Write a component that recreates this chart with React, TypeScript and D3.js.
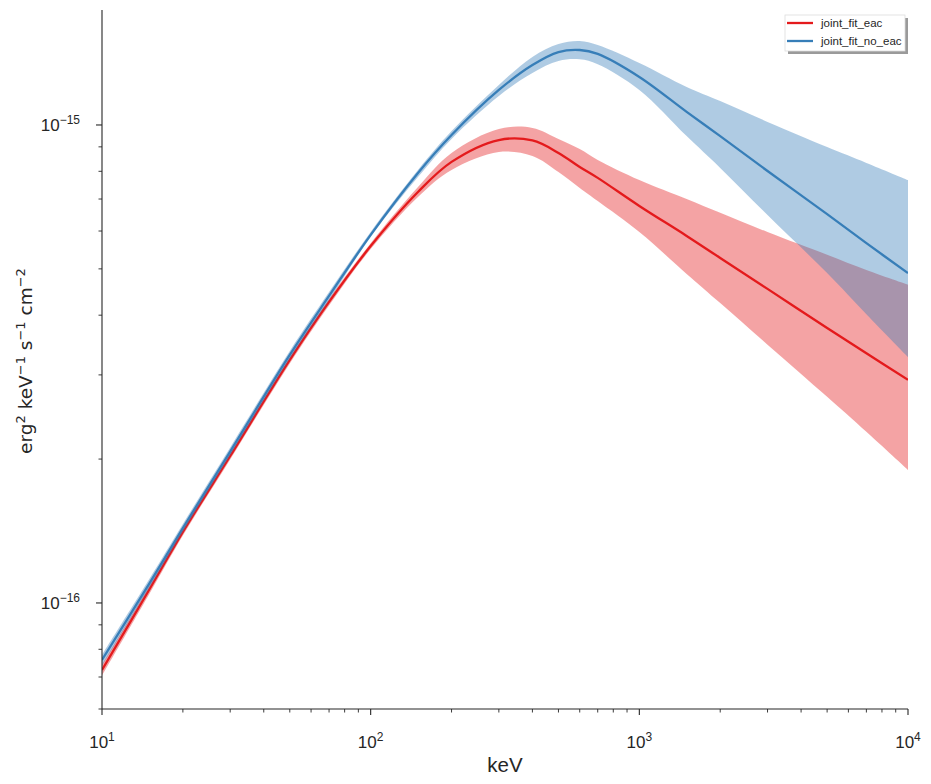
import { useEffect, useRef } from 'react'
import * as d3 from 'd3'

// photon energy grid (keV)
const energies = [10, 15, 20, 30, 50, 70, 100, 150, 200, 300, 400, 500, 600, 700, 1000, 1500, 2000, 3000, 5000, 7000, 10000]

// vFv in units of 1e-16 erg^2 keV^-1 s^-1 cm^-2
const eacMid = [0.724, 1.067, 1.408, 2.030, 3.224, 4.264, 5.58, 7.24, 8.37, 9.30, 9.28, 8.74, 8.17, 7.75, 6.77, 5.86, 5.27, 4.54, 3.76, 3.33, 2.93]
const eacHigh = [0.742, 1.088, 1.428, 2.059, 3.270, 4.325, 5.66, 7.42, 8.74, 9.81, 9.86, 9.35, 8.91, 8.45, 7.67, 7.00, 6.55, 5.97, 5.35, 4.97, 4.63]
const eacLow = [0.704, 1.044, 1.384, 1.996, 3.170, 4.193, 5.50, 7.07, 8.05, 8.78, 8.61, 7.97, 7.38, 6.93, 5.97, 4.88, 4.24, 3.47, 2.70, 2.28, 1.897]

const noEacMid = [0.760, 1.098, 1.435, 2.074, 3.303, 4.388, 5.89, 7.937, 9.53, 11.84, 13.35, 14.21, 14.35, 14.08, 12.60, 10.65, 9.48, 8.01, 6.51, 5.66, 4.90]
const noEacHigh = [0.778, 1.122, 1.463, 2.115, 3.367, 4.473, 5.973, 8.05, 9.71, 12.13, 13.88, 14.77, 14.99, 14.70, 13.48, 12.01, 11.22, 10.15, 8.99, 8.33, 7.67]
const noEacLow = [0.738, 1.075, 1.408, 2.035, 3.239, 4.30, 5.83, 7.78, 9.35, 11.50, 12.85, 13.61, 13.72, 13.40, 11.84, 9.48, 8.13, 6.48, 4.90, 4.02, 3.27]

const seriesNames = ['joint_fit_eac', 'joint_fit_no_eac']
const seriesColors = ['#e41a1c', '#377eb8']

const xMajorExponents = [1, 2, 3, 4]
const yMajorExponents = [-16, -15]

const W = 931
const H = 784

type Pt = { e: number; mid: number; lo: number; hi: number }

export default function App() {
  const svgRef = useRef<SVGSVGElement>(null)

  useEffect(() => {
    if (!svgRef.current) return
    const svg = d3.select(svgRef.current)
    svg.selectAll('*').remove()

    const left = 102, right = 908, top = 10, bottom = 709
    const ink = '#262626'
    const sans = '"Liberation Sans", Arial, sans-serif'

    const x = d3.scaleLog().domain([10, 1e4]).range([left, right])
    const y = d3.scaleLog().domain([6.0e-17, 1.74e-15]).range([bottom, top])

    const build = (mid: number[], lo: number[], hi: number[]): Pt[] =>
      energies.map((e, i) => ({ e, mid: mid[i] * 1e-16, lo: lo[i] * 1e-16, hi: hi[i] * 1e-16 }))

    const series = [
      build(eacMid, eacLow, eacHigh),
      build(noEacMid, noEacLow, noEacHigh)
    ]

    svg.append('defs').append('clipPath').attr('id', 'plot-clip')
      .append('rect')
      .attr('x', left).attr('y', top)
      .attr('width', right - left).attr('height', bottom - top)

    const plot = svg.append('g').attr('clip-path', 'url(#plot-clip)')

    const curve = d3.curveCatmullRom.alpha(0.5)

    const area = d3.area<Pt>()
      .x(d => x(d.e))
      .y0(d => y(d.lo))
      .y1(d => y(d.hi))
      .curve(curve)

    const line = d3.line<Pt>()
      .x(d => x(d.e))
      .y(d => y(d.mid))
      .curve(curve)

    series.forEach((data, i) => {
      plot.append('path')
        .datum(data)
        .attr('fill', seriesColors[i])
        .attr('fill-opacity', 0.4)
        .attr('d', area)
      plot.append('path')
        .datum(data)
        .attr('fill', 'none')
        .attr('stroke', seriesColors[i])
        .attr('stroke-width', 2.3)
        .attr('d', line)
    })

    // spines
    svg.append('line')
      .attr('x1', left).attr('x2', left)
      .attr('y1', top).attr('y2', bottom)
      .attr('stroke', ink).attr('stroke-width', 1.1)
    svg.append('line')
      .attr('x1', left).attr('x2', right)
      .attr('y1', bottom).attr('y2', bottom)
      .attr('stroke', ink).attr('stroke-width', 1.1)

    // x ticks
    const xMinor: number[] = []
    for (let p = 1; p < 4; p++) for (let k = 2; k <= 9; k++) xMinor.push(k * Math.pow(10, p))
    const ticks = svg.append('g').attr('stroke', ink)
    xMinor.forEach(v => {
      ticks.append('line')
        .attr('x1', x(v)).attr('x2', x(v))
        .attr('y1', bottom).attr('y2', bottom + 3.5)
        .attr('stroke-width', 0.9)
    })
    xMajorExponents.forEach(p => {
      const v = Math.pow(10, p)
      ticks.append('line')
        .attr('x1', x(v)).attr('x2', x(v))
        .attr('y1', bottom).attr('y2', bottom + 6)
        .attr('stroke-width', 1.1)
      const t = svg.append('text')
        .attr('x', x(v))
        .attr('y', 748)
        .attr('text-anchor', 'middle')
        .attr('font-family', sans)
        .attr('font-size', 17)
        .attr('fill', ink)
      t.append('tspan').text('10')
      t.append('tspan').attr('dy', -7).attr('font-size', 12).text(String(p))
    })

    // y ticks
    const yMinor: number[] = []
    for (let p = -17; p <= -16; p++) for (let k = 2; k <= 9; k++) {
      const v = k * Math.pow(10, p)
      if (v >= 5.99e-17 && v <= 1.74e-15) yMinor.push(v)
    }
    yMinor.forEach(v => {
      ticks.append('line')
        .attr('x1', left - 3.5).attr('x2', left)
        .attr('y1', y(v)).attr('y2', y(v))
        .attr('stroke-width', 0.9)
    })
    yMajorExponents.forEach(p => {
      const v = Math.pow(10, p)
      ticks.append('line')
        .attr('x1', left - 6).attr('x2', left)
        .attr('y1', y(v)).attr('y2', y(v))
        .attr('stroke-width', 1.1)
      const t = svg.append('text')
        .attr('x', 80)
        .attr('y', y(v) + 6)
        .attr('text-anchor', 'end')
        .attr('font-family', sans)
        .attr('font-size', 17)
        .attr('fill', ink)
      t.append('tspan').text('10')
      t.append('tspan').attr('dy', -7).attr('font-size', 12).text('\u2212' + String(-p))
    })

    // axis labels
    svg.append('text')
      .attr('x', (left + right) / 2)
      .attr('y', 772)
      .attr('text-anchor', 'middle')
      .attr('font-family', sans)
      .attr('font-size', 20.5)
      .attr('fill', ink)
      .text('keV')

    const yl = svg.append('text')
      .attr('transform', `translate(32, 361) rotate(-90)`)
      .attr('text-anchor', 'middle')
      .attr('font-family', '"DejaVu Sans", sans-serif')
      .attr('font-size', 18.5)
      .attr('fill', ink)
    const parts: [string, string][] = [['erg', '2'], [' keV', '\u22121'], [' s', '\u22121'], [' cm', '\u22122']]
    parts.forEach(([base, sup], i) => {
      yl.append('tspan').attr('dy', i === 0 ? 0 : 7).text(base)
      yl.append('tspan').attr('dy', -7).attr('font-size', 13).text(sup)
    })

    // legend
    const lg = svg.append('g').attr('transform', 'translate(785, 15)')
    lg.append('rect')
      .attr('x', 3).attr('y', 3).attr('width', 120).attr('height', 36)
      .attr('fill', '#9a9a9a')
    lg.append('rect')
      .attr('x', 0).attr('y', 0).attr('width', 120).attr('height', 36)
      .attr('fill', '#fff').attr('stroke', '#dddddd').attr('stroke-width', 0.8)
    seriesNames.forEach((name, i) => {
      const ly = 8 + i * 18
      lg.append('line')
        .attr('x1', 2).attr('x2', 28)
        .attr('y1', ly).attr('y2', ly)
        .attr('stroke', seriesColors[i]).attr('stroke-width', 2.3)
      lg.append('text')
        .attr('x', 36).attr('y', ly + 4)
        .attr('font-family', sans)
        .attr('font-size', 11.5)
        .attr('fill', ink)
        .text(name)
    })
  }, [])

  return (
    <svg
      ref={svgRef}
      width={W}
      height={H}
      style={{ position: 'absolute', left: 0, top: 0, background: '#fff' }}
    />
  )
}
